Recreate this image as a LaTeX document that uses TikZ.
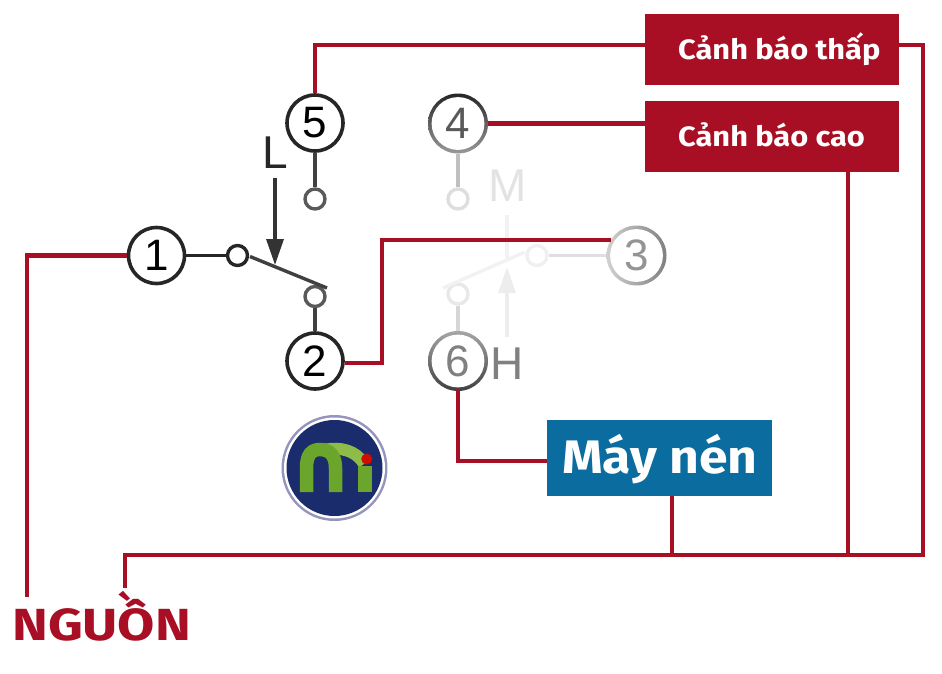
\documentclass[tikz,border=0pt]{standalone}
\usepackage{fontspec}
\setmainfont{Liberation Sans}
\newfontfamily\headfont{Fira Sans}[FakeStretch=1.1]
\newfontfamily\headwide{Fira Sans}[FakeStretch=1.2]
\usetikzlibrary{arrows.meta,calc}
\definecolor{wred}{HTML}{A90F24}
\definecolor{wblue}{HTML}{0A6C9F}
\definecolor{dk}{HTML}{262626}
\definecolor{navy}{HTML}{1A2C6B}
\definecolor{lime}{HTML}{6BA52C}
\definecolor{limehi}{HTML}{8DBD48}
\tikzset{
  wire/.style={draw=wred,line width=4.6pt,line join=miter},
  box/.style={fill=wred,minimum width=254pt,minimum height=71pt,inner sep=0pt,anchor=north west},
  boxtext/.style={text=white,anchor=base west,inner sep=0pt,font=\headfont\bfseries\fontsize{28}{30}\selectfont},
  term/.style={circle,draw,line width=3.6pt,minimum size=56pt,inner sep=0pt,fill=white,font=\fontsize{44}{44}\selectfont},
  ringout/.style={circle,minimum size=60pt,inner sep=0pt},
  terminner/.style={circle,fill=white,minimum size=52.8pt,inner sep=0pt,font=\fontsize{44}{44}\selectfont},
  pin/.style={circle,draw,line width=3.4pt,minimum size=20pt,inner sep=0pt,fill=white},
  stem/.style={line width=3.4pt},
  letter/.style={inner sep=0pt,font=\fontsize{46}{46}\selectfont},
  head/.style={-{Triangle[width=17pt,length=26pt]},line width=3.4pt}
}
\begin{document}
\begin{tikzpicture}[x=1pt,y=-1pt]
\useasboundingbox (0,0) rectangle (942,673);
% faded switch group
\node[pin,draw=black!13] (p4) at (458,199) {};
\node[pin,draw=black!9] (p6) at (458,294) {};
\node[pin,draw=black!6] (p3) at (537,255.5) {};
\coordinate (armA) at (443,288);
\coordinate (armB) at (525,252);
\draw[stem,draw=black!5] (armA) -- (armB);
\coordinate (mTop) at (507,215);
\coordinate (mBot) at (507,258);
\draw[stem,draw=black!5] (mTop) -- (mBot);
\coordinate (hBot) at (507,337);
\coordinate (hTip) at (507,267);
\draw[head,draw=black!7,fill=black!7,color=black!7] (hBot) -- (hTip);
\node[letter,text=black!11] (M) at (507.5,186) {M};
\node[letter,text=black!50] (H) at (507.5,364) {H};
% faded terminals
\node[ringout,top color=black!85,bottom color=black!40,middle color=black!62] (t4o) at (458,123.5) {};
\node[terminner,text=black!65] (t4) at (458,123.5) {4};
\node[ringout,left color=black!18,right color=black!50] (t3o) at (636.5,255.5) {};
\node[terminner,text=black!42] (t3) at (636.5,255.5) {3};
\node[ringout,top color=black!35,bottom color=black!75] (t6o) at (458,361) {};
\node[terminner,text=black!50] (t6) at (458,361) {6};
\draw[stem,draw=black!25] (t4o.south) -- (p4.north);
\draw[stem,draw=black!16] (p6.south) -- (t6o.north);
\draw[stem,draw=black!12] (p3.east) -- (t3o.west);
% dark switch group
\node[term,draw=dk] (t1) at (156.5,255.5) {1};
\node[term,draw=dk] (t2) at (315,361) {2};
\node[term,draw=dk] (t5) at (315,123) {5};
\node[pin,draw=dk] (p1) at (237.5,255.5) {};
\node[pin,draw=black!65] (p2) at (315,296.5) {};
\node[pin,draw=black!65] (p5) at (315,199) {};
\draw[stem,draw=dk] (t1.east) -- (p1.west);
\draw[stem,draw=black!75] (t5.south) -- (p5.north);
\draw[stem,draw=black!75] (p2.south) -- (t2.north);
\coordinate (armC) at (250,256.5);
\coordinate (armD) at (327,288);
\draw[stem,draw=black!75] (armC) -- (armD);
\node[letter,text=dk] (L) at (275.5,153) {L};
\coordinate (lTop) at (275,178);
\coordinate (lTip) at (275,265);
\draw[head,draw=black!80,fill=black!80,color=black!80] (lTop) -- (lTip);
% boxes
\node[box] (b1) at (645,14) {};
\node[box] (b2) at (645,101) {};
\node[fill=wblue,minimum width=225pt,minimum height=76pt,inner sep=0pt,anchor=north west] (b3) at (547,420) {};
\node[boxtext] (b1t) at (678,59) {Cảnh báo thấp};
\node[boxtext] (b2t) at (678,146.5) {Cảnh báo cao};
\node[boxtext,font=\headfont\bfseries\fontsize{47}{47}\selectfont] (b3t) at (562,473) {Máy nén};
\node[anchor=base west,inner sep=0pt,text=wred,font=\headwide\bfseries\fontsize{45}{46}\selectfont] (src) at (12,640) {NGUỒN};
% wires
\coordinate (c1) at (645,45);
\coordinate (c1r) at (899,45);
\coordinate (c2) at (645,123.5);
\coordinate (c3) at (611,240);
\coordinate (c2r) at (345,363);
\coordinate (c6) at (547,461);
\coordinate (jb) at (672,555);
\coordinate (jc) at (848,555);
\coordinate (fa) at (27,597);
\coordinate (fb) at (125,588);
\coordinate (bar) at (923,555);
\draw[wire] (t5.north) |- (c1);
\draw[wire] (t4.east) ++(3,0) -- (c2);
\draw[wire] (c2r) -- (382,363) -- (382,240) -- (c3);
\draw[wire] (t6.south) ++(0,2) |- (c6);
\draw[wire] (t1.west) -| (fa);
\draw[wire] (c1r) -| (bar) -- (125,555) -- (fb);
\draw[wire] (b3.south -| jb) -- (jb);
\draw[wire] (b2.south -| jc) -- (jc);
% logo
\fill[black!35!blue!40!gray!60] (334.5,468) circle (53);
\fill[white] (334.5,468) circle (50.5);
\fill[navy] (334.5,468) circle (48);
\draw[limehi,line width=12pt] (326,449.5) .. controls (340,447) and (356,450) .. (364,464);
\draw[lime,line width=13.5pt] (365,466) -- (365,492);
\draw[lime,line width=13.5pt] (306.5,492) -- (306.5,468)
  .. controls (306.5,454) and (312,449.5) .. (320,449.5)
  .. controls (330,449.5) and (335.5,456) .. (335.5,468) -- (335.5,492);
\fill[red!80!black!90!orange] (366.7,459) circle (5.5);
\end{tikzpicture}
\end{document}
